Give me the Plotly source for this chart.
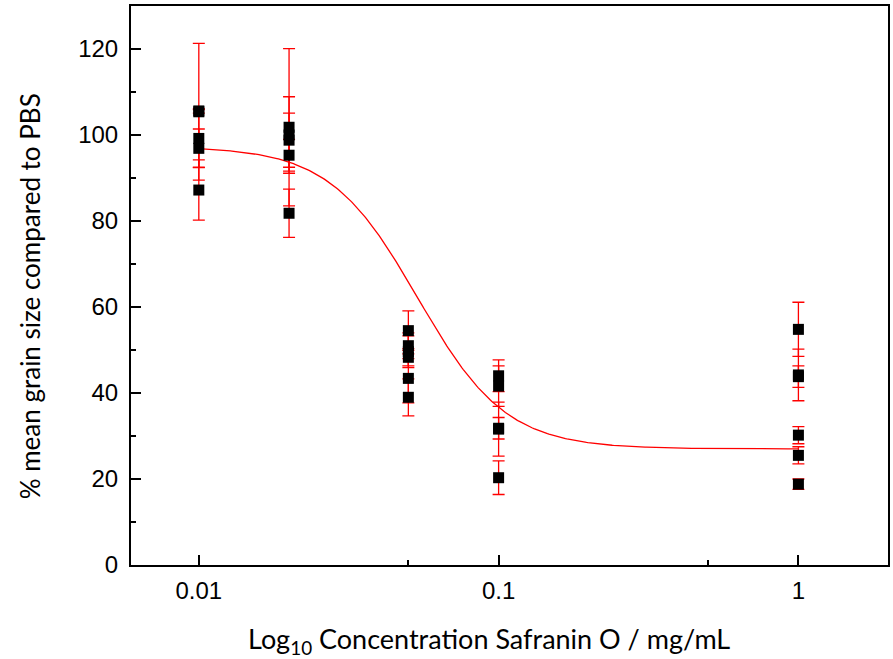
import numpy as np
import plotly.graph_objects as go

# Safranin O concentrations (mg/mL) and replicate measurements
conc_001 = [105.4, 105.6, 99.2, 96.9, 87.2]
err_001 = [15.9, 0.5, 6.7, 4.5, 7.0]
conc_002 = [101.8, 100.0, 98.8, 95.3, 81.8]
err_002 = [18.3, 8.9, 6.3, 3.7, 5.6]
conc_005 = [54.5, 51.0, 49.6, 48.3, 43.4, 39.0]
err_005 = [4.6, 3.0, 3.7, 2.0, 5.7, 4.3]
conc_01 = [44.0, 41.6, 31.8, 31.6, 20.3]
err_01 = [3.7, 4.7, 2.5, 6.3, 3.9]
conc_1 = [54.8, 44.2, 43.8, 30.2, 25.5, 18.8]
err_1 = [6.3, 6.0, 2.5, 2.0, 2.0, 1.2]

concentrations = [0.01, 0.02, 0.05, 0.1, 1.0]
groups = [(conc_001, err_001), (conc_002, err_002), (conc_005, err_005),
          (conc_01, err_01), (conc_1, err_1)]

x_title = "Log<sub>10</sub> Concentration Safranin O / mg/mL"
y_title = "% mean grain size compared to PBS"

# Dose-response fit parameters (top, bottom, log EC50, Hill slope)
fit_top = 97.3
fit_bottom = 27.0
fit_log_x0 = -1.27
fit_slope = 2.95

xs, ys, es = [], [], []
for c, (vals, errs) in zip(concentrations, groups):
    xs += [c] * len(vals)
    ys += vals
    es += errs

fig = go.Figure()

# fitted curve
lx = np.linspace(-2, 0, 400)
curve = fit_bottom + (fit_top - fit_bottom) / (1 + 10 ** ((lx - fit_log_x0) * fit_slope))
fig.add_trace(go.Scatter(x=10 ** lx, y=curve, mode="lines",
                         line=dict(color="#ff0000", width=1.3),
                         hoverinfo="skip", showlegend=False))

# replicate points with error bars
fig.add_trace(go.Scatter(
    x=xs, y=ys, mode="markers",
    marker=dict(symbol="square", size=11, color="black", line=dict(width=0)),
    error_y=dict(type="data", array=es, visible=True, color="#ff0000",
                 thickness=1.3, width=6),
    showlegend=False))

axis_font = dict(family="Liberation Sans", size=24, color="black")
title_font = dict(family="Lato, Calibri, sans-serif", size=27, color="black")

W, H = 893, 659
ML, MR, MT, MB = 131, 3, 6, 94

fig.update_layout(
    width=W, height=H,
    margin=dict(l=ML, r=MR, t=MT, b=MB),
    paper_bgcolor="white", plot_bgcolor="white",
    xaxis=dict(
        type="log", range=[np.log10(0.00594), np.log10(1.99)],
        tickvals=[0.01, 0.1, 1], ticktext=["0.01", "0.1", "1"],
        ticks="inside", ticklen=10, tickwidth=1.5, tickcolor="black",
        minor=dict(tickvals=[0.05, 0.5], ticks="inside", ticklen=5,
                   tickwidth=1.5, tickcolor="black", showgrid=False),
        showline=True, linecolor="black", linewidth=2, mirror=True,
        showgrid=False, zeroline=False, tickfont=axis_font,
        ticklabelstandoff=3,
    ),
    yaxis=dict(
        range=[0, 130], tickvals=[0, 20, 40, 60, 80, 100, 120],
        ticks="inside", ticklen=10, tickwidth=1.5, tickcolor="black",
        minor=dict(dtick=10, tick0=0, ticks="inside", ticklen=5,
                   tickwidth=1.5, tickcolor="black", showgrid=False),
        showline=True, linecolor="black", linewidth=2, mirror=True,
        showgrid=False, zeroline=False, tickfont=axis_font,
        ticklabelstandoff=6,
    ),
)

# axis titles placed in paper pixels
pw = W - ML - MR
ph = H - MT - MB
fig.add_annotation(text=x_title, xref="paper", yref="paper",
                   x=(490 - ML) / pw, y=-(640 - (H - MB)) / ph,
                   xanchor="center", yanchor="middle", showarrow=False,
                   font=title_font)
fig.add_annotation(text=y_title, xref="paper", yref="paper",
                   x=(30 - ML) / pw, y=((H - MB) - 296) / ph,
                   xanchor="center", yanchor="middle", showarrow=False,
                   textangle=-90, font=dict(title_font, size=26))

fig.write_html("out.html")
